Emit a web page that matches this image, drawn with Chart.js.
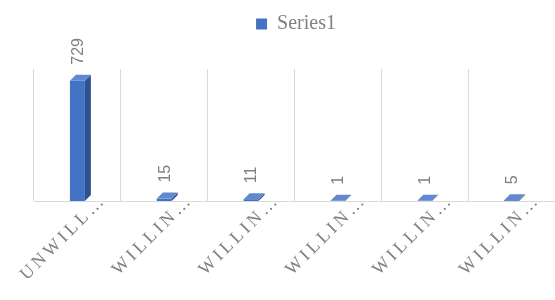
<!DOCTYPE html>
<html>
<head>
<meta charset="utf-8">
<script src="https://cdn.jsdelivr.net/npm/chart.js@4"></script>
<style>
html,body{margin:0;padding:0;background:#fff;}
#wrap{width:555px;height:300px;position:relative;}
</style>
</head>
<body>
<div id="wrap"><canvas id="c" width="555" height="300"></canvas></div>
<script>
const categories = ['UNWILL…', 'WILLIN…', 'WILLIN…', 'WILLIN…', 'WILLIN…', 'WILLIN…'];
const series1 = [729, 15, 11, 1, 1, 5];
const seriesName = 'Series1';
const yMax = 800;

const FRONT = '#4472c4', SIDE = '#2f528f', TOP = '#6289d0';
const GRAY = '#808080';
const DX = 6, DY = -6;

const legendGap = {
  id: 'legendGap',
  beforeInit(chart) {
    const origFit = chart.legend.fit;
    chart.legend.fit = function () {
      origFit.call(this);
      this.height += 25;
    };
  }
};

const bar3d = {
  id: 'bar3d',
  afterDatasetsDraw(chart) {
    const ctx = chart.ctx;
    const base = chart.scales.y.getPixelForValue(0);
    chart.getDatasetMeta(0).data.forEach((bar) => {
      const p = bar.getProps(['x', 'y', 'width'], true);
      const l = p.x - p.width / 2, r = p.x + p.width / 2, y = p.y;
      ctx.save();
      ctx.fillStyle = SIDE;
      ctx.beginPath();
      ctx.moveTo(r, base); ctx.lineTo(r, y); ctx.lineTo(r + DX, y + DY); ctx.lineTo(r + DX, base + DY);
      ctx.closePath(); ctx.fill();
      ctx.fillStyle = TOP;
      ctx.beginPath();
      ctx.moveTo(l, y); ctx.lineTo(r, y); ctx.lineTo(r + DX, y + DY); ctx.lineTo(l + DX, y + DY);
      ctx.closePath(); ctx.fill();
      ctx.restore();
    });
  },
  afterDraw(chart) {
    const ctx = chart.ctx;
    const xs = chart.scales.x;
    const base = chart.scales.y.getPixelForValue(0);
    const meta = chart.getDatasetMeta(0);
    meta.data.forEach((bar, i) => {
      const p = bar.getProps(['x', 'y'], true);
      ctx.save();
      ctx.translate(p.x + 1, p.y - 16);
      ctx.rotate(-Math.PI / 2);
      ctx.font = '16px "Liberation Sans", Arial, sans-serif';
      ctx.fillStyle = GRAY;
      ctx.textAlign = 'left';
      ctx.textBaseline = 'middle';
      ctx.fillText(String(series1[i]), 0, 0);
      ctx.restore();
    });
    categories.forEach((lab, i) => {
      const x = xs.getPixelForValue(i);
      ctx.save();
      ctx.translate(x + 27, base + 2);
      ctx.rotate(-Math.PI / 4);
      ctx.font = '18px "Liberation Serif", "Times New Roman", serif';
      ctx.letterSpacing = '3.5px';
      ctx.fillStyle = GRAY;
      ctx.textAlign = 'right';
      ctx.textBaseline = 'alphabetic';
      ctx.fillText(lab, 3.5, 0);
      ctx.restore();
    });
  }
};

new Chart(document.getElementById('c'), {
  type: 'bar',
  data: {
    labels: categories,
    datasets: [{
      label: seriesName,
      data: series1,
      backgroundColor: FRONT,
      borderWidth: 0,
      categoryPercentage: 1,
      barPercentage: 0.172
    }]
  },
  options: {
    responsive: false,
    animation: false,
    devicePixelRatio: 1,
    layout: { padding: { left: 34, right: -3, top: 4, bottom: 99 } },
    plugins: {
      legend: {
        position: 'top',
        labels: {
          boxWidth: 11, boxHeight: 11,
          color: GRAY,
          font: { family: '"Liberation Serif", "Times New Roman", serif', size: 20 },
          padding: 10
        }
      },
      tooltip: { enabled: false }
    },
    scales: {
      x: {
        grid: { offset: true, drawTicks: false, color: '#d9d9d9', lineWidth: 1 },
        border: { color: '#d9d9d9', width: 1 },
        ticks: { display: false }
      },
      y: { display: false, min: 0, max: yMax }
    }
  },
  plugins: [legendGap, bar3d]
});
</script>
</body>
</html>
